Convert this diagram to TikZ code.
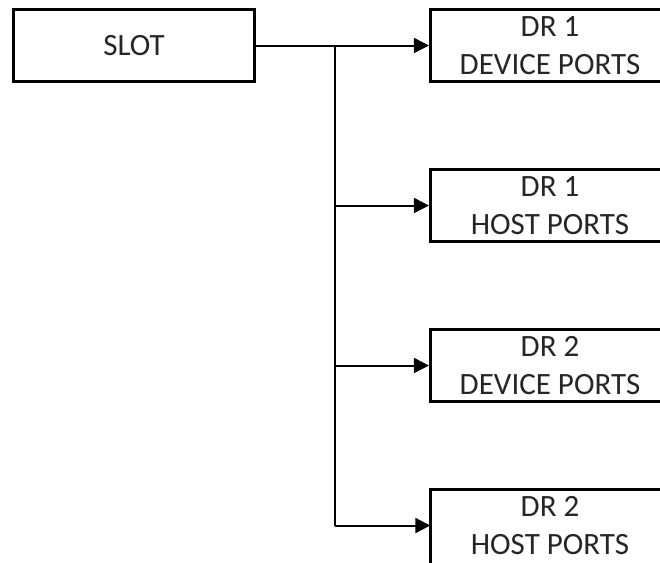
\documentclass[tikz,border=0pt]{standalone}
\usepackage{fontspec}
\setmainfont{Carlito}
\usetikzlibrary{arrows.meta}
\begin{document}
\begin{tikzpicture}[x=1pt,y=-1pt,
  blocktext/.style={minimum width=241pt,minimum height=72pt,inner sep=0pt,align=center,font=\fontsize{31}{38}\selectfont,text=black!85},
  blockbox/.style={blocktext,draw=black,line width=3.2pt},
  portbox/.style={blockbox,minimum width=239pt},
  border/.style={draw=black,line width=3.2pt},
  conn/.style={line width=2pt,draw=black},
  arr/.style={conn,-{Triangle[length=15pt,width=15pt]}}]
\clip (0,0) rectangle (660,562);
\fill[white] (0,0) rectangle (660,562);
\node[blockbox] (slot) at (134,45.5) {SLOT};
\node[portbox] (d1dev) at (550,45.5) {DR 1\\DEVICE PORTS};
\node[portbox] (d1host) at (550,205.5) {DR 1\\HOST PORTS};
\node[portbox] (d2dev) at (550,365.5) {DR 2\\DEVICE PORTS};
\node[blocktext,minimum width=239pt] (d2host) at (550,525.5) {DR 2\\HOST PORTS};
\draw[border] ([yshift=-6pt]d2host.south west) -- (d2host.north west) -- (d2host.north east) -- ([yshift=-6pt]d2host.south east);
\coordinate (j1) at (335,45.5);
\coordinate (j2) at (335,205.5);
\coordinate (j3) at (335,365.5);
\coordinate (j4) at (335,525.5);
\draw[conn] (slot.east) -- (j1);
\draw[arr] (j1) -- (d1dev.west);
\draw[conn] (j1) -- (j4);
\draw[arr] (j2) -- (d1host.west);
\draw[arr] (j3) -- (d2dev.west);
\draw[arr] (j4) -- (d2host.west);
\end{tikzpicture}
\end{document}
